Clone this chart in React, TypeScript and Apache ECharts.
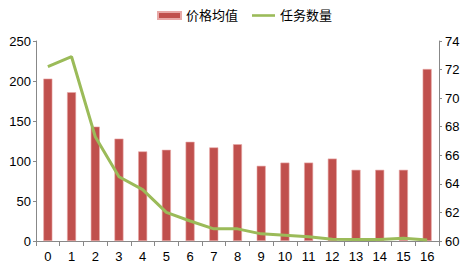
import React, { useEffect, useRef } from "react";
import * as echarts from "echarts";

const categories = ["0","1","2","3","4","5","6","7","8","9","10","11","12","13","14","15","16"];
const priceAvg = [203, 186, 143, 128, 112, 114, 124, 117, 121, 94, 98, 98, 103, 89, 89, 89, 215];
const taskCount = [72.2, 72.9, 67.3, 64.5, 63.6, 62.0, 61.4, 60.85, 60.85, 60.5, 60.4, 60.3, 60.12, 60.1, 60.1, 60.2, 60.07];

export default function App() {
  const ref = useRef<HTMLDivElement>(null);
  useEffect(() => {
    const chart = echarts.init(ref.current!, null, { renderer: "svg" });
    const font = "'Liberation Sans', 'Noto Sans CJK SC', sans-serif";
    chart.setOption({
      animation: false,
      textStyle: { fontFamily: font },
      legend: {
        top: 4,
        left: 152,
        itemGap: 14,
        itemWidth: 23,
        itemHeight: 7,
        textStyle: { fontSize: 13, color: "#000", fontFamily: font },
        data: [
          { name: "价格均值", icon: "rect" },
          { name: "任务数量", icon: "path://M0 0H23V2.6H0Z" },
        ],
      },
      grid: { left: 36, right: 33, top: 41, bottom: 26 },
      xAxis: {
        type: "category",
        data: categories,
        axisLine: { lineStyle: { color: "#888" } },
        axisTick: { show: true, lineStyle: { color: "#888" } },
        axisLabel: { color: "#000", fontSize: 13, margin: 9 },
      },
      yAxis: [
        {
          type: "value",
          min: 0,
          max: 250,
          interval: 50,
          splitLine: { show: false },
          axisLine: { show: true, lineStyle: { color: "#888" } },
          axisTick: { show: true, length: 3, lineStyle: { color: "#888" } },
          axisLabel: { color: "#000", fontSize: 13, margin: 5 },
        },
        {
          type: "value",
          min: 60,
          max: 74,
          interval: 2,
          splitLine: { show: false },
          axisLine: { show: true, lineStyle: { color: "#888" } },
          axisTick: { show: true, length: 3, lineStyle: { color: "#888" } },
          axisLabel: { color: "#000", fontSize: 13, margin: 6 },
        },
      ],
      series: [
        {
          name: "价格均值",
          type: "bar",
          data: priceAvg,
          barWidth: 9,
          itemStyle: { color: "#C0504D", borderColor: "#E8A8A6", borderWidth: 0.6 },
        },
        {
          name: "任务数量",
          type: "line",
          yAxisIndex: 1,
          data: taskCount,
          symbol: "none",
          lineStyle: { color: "#9BBB59", width: 3 },
          itemStyle: { color: "#9BBB59" },
        },
      ],
    });
    return () => chart.dispose();
  }, []);
  return <div ref={ref} style={{ width: 472, height: 267, position: "absolute", left: 0, top: 0 }} />;
}
